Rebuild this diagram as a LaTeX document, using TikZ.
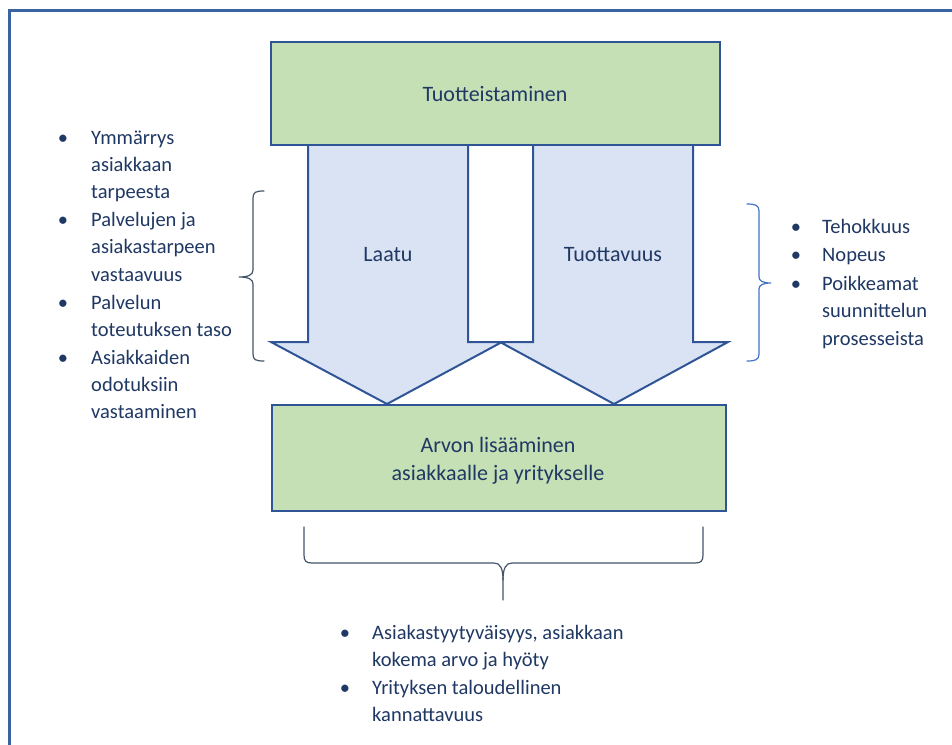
\documentclass[tikz,border=0pt]{standalone}
\usepackage{fontspec}
\setmainfont{Carlito}
\begin{document}
\definecolor{navytext}{HTML}{1F3864}
\definecolor{edgeblue}{HTML}{2F5597}
\definecolor{framecol}{HTML}{3B63A1}
\definecolor{arrowfill}{HTML}{DAE3F3}
\definecolor{boxgreen}{HTML}{C5E0B4}
\definecolor{bracegrey}{HTML}{44546A}
\definecolor{braceblue}{HTML}{4472C4}
\begin{tikzpicture}[x=1pt,y=-1pt,
  txt/.style={font={\fontsize{20.5}{27.4}\selectfont}, text=navytext, inner sep=0pt},
  bigtxt/.style={font={\fontsize{22}{28}\selectfont}, text=navytext, inner sep=0pt},
  listtxt/.style={txt, anchor=base west, align=left},
  bul/.style={txt, anchor=base},
  greenbox/.style={draw=edgeblue, line width=2pt, fill=boxgreen, inner sep=0pt},
  bigarrow/.style={draw=edgeblue, line width=2pt, fill=arrowfill, line join=miter},
  bracestyle/.style={line width=1.2pt, line cap=round}]
\useasboundingbox (0,0) rectangle (952,744);
\fill[white] (0,0) rectangle (952,744);

% outer frame (open to the right and bottom)
\draw[framecol, line width=2.6pt] (9.5,760) -- (9.5,10.5) -- (970,10.5);

% the two downward arrows
\draw[bigarrow] (308,145) -- (308,342) -- (271,342) -- (387,404) -- (502,342) -- (468,342) -- (468,145);
\draw[bigarrow] (533,145) -- (533,342) -- (500,342) -- (614,404) -- (728,342) -- (693,342) -- (693,145);
\node[bigtxt, anchor=base] (laatu) at (388,261) {Laatu};
\node[bigtxt, anchor=base] (tuottavuus) at (613,261) {Tuottavuus};

% top and bottom boxes
\node[greenbox, minimum width=449pt, minimum height=103pt] (top) at (495.5,93.5) {};
\node[bigtxt, anchor=base] (toptext) at (495,101) {Tuotteistaminen};
\node[greenbox, minimum width=454pt, minimum height=106pt] (bottom) at (499,457.5) {};
% multi-line nodes are placed by the baseline of their last line
\node[bigtxt, anchor=base, align=center] (bottomtext) at (498,480) {Arvon lisääminen\\asiakkaalle ja yritykselle};

% left brace
\draw[bracestyle, bracegrey] (264,191) .. controls (256,191) and (253,192) .. (253,198)
  -- (253,270) .. controls (253,275) and (248,277) .. (239,277)
  .. controls (248,277) and (253,279) .. (253,284)
  -- (253,354) .. controls (253,360) and (256,361) .. (264,361);
% right brace
\draw[bracestyle, braceblue] (747,204) .. controls (755,204) and (759,205) .. (759,211)
  -- (759,277) .. controls (759,281) and (763,283) .. (771,283)
  .. controls (763,283) and (759,285) .. (759,289)
  -- (759,354) .. controls (759,360) and (755,361) .. (747,361);
% bottom brace
\coordinate (bbtip) at (503,600);
\draw[bracestyle, bracegrey] (304,527) -- (304,555) .. controls (304,561) and (306,563) .. (312,563)
  -- (494,563) .. controls (500,563) and (503,568) .. (503,580) -- (bbtip);
\draw[bracestyle, bracegrey] (703,527) -- (703,555) .. controls (703,561) and (701,563) .. (695,563)
  -- (512,563) .. controls (506,563) and (503,568) .. (503,580);

% left list
\node[bul] (lb1) at (63,144) {•};
\node[listtxt] (l1) at (91,198.8) {Ymmärrys\\asiakkaan\\tarpeesta};
\node[bul] (lb2) at (63,226.5) {•};
\node[listtxt] (l2) at (91,281.3) {Palvelujen ja\\asiakastarpeen\\vastaavuus};
\node[bul] (lb3) at (63,309) {•};
\node[listtxt] (l3) at (91,336.4) {Palvelun\\toteutuksen taso};
\node[bul] (lb4) at (63,364) {•};
\node[listtxt] (l4) at (91,418.8) {Asiakkaiden\\odotuksiin\\vastaaminen};

% right list
\node[bul] (rb1) at (796,233) {•};
\node[listtxt] (r1) at (822,233) {Tehokkuus};
\node[bul] (rb2) at (796,261.5) {•};
\node[listtxt] (r2) at (822,261.5) {Nopeus};
\node[bul] (rb3) at (796,290) {•};
\node[listtxt, font={\fontsize{20.5}{27.8}\selectfont}] (r3) at (822,345.6) {Poikkeamat\\suunnittelun\\prosesseista};

% bottom list
\node[bul] (bb1) at (345,639) {•};
\node[listtxt, font={\fontsize{20.5}{27}\selectfont}] (b1) at (372,666) {Asiakastyytyväisyys, asiakkaan\\kokema arvo ja hyöty};
\node[bul] (bb2) at (345,694.5) {•};
\node[listtxt, font={\fontsize{20.5}{27}\selectfont}] (b2) at (372,721.5) {Yrityksen taloudellinen\\kannattavuus};
\end{tikzpicture}
\end{document}
